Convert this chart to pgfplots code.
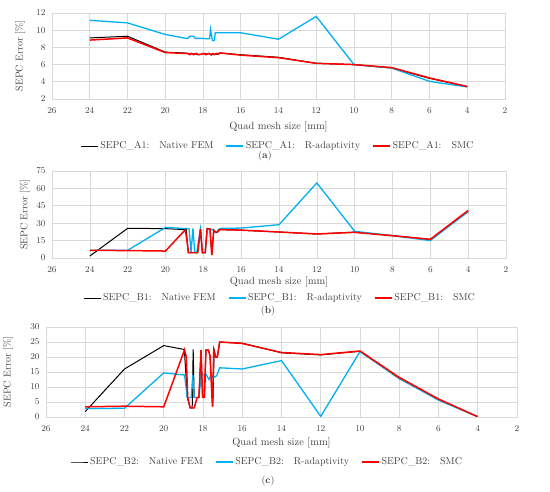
\documentclass[border=0pt]{standalone}
\usepackage{pgfplots}
\pgfplotsset{compat=1.18}
\definecolor{xlblue}{RGB}{0,176,240}
\definecolor{gridc}{RGB}{217,217,217}
\definecolor{txt}{RGB}{64,64,64}
\pgfplotsset{
  panel/.style={
    scale only axis,
    x dir=reverse,
    xmin=2, xmax=26,
    xtick={2,4,...,26},
    grid=major,
    grid style={gridc, line width=0.6pt},
    axis line style={gridc, line width=0.6pt},
    major tick length=0pt,
    tick label style={font=\fontsize{9.5}{10}\selectfont, text=txt},
    xticklabel style={yshift=-5bp},
    yticklabel style={xshift=-3bp},
    xlabel={Quad mesh size [mm]},
    ylabel={SEPC Error [\%]},
    every axis x label/.style={font=\fontsize{10.5}{13}\selectfont, text=txt, anchor=center},
    every axis y label/.style={font=\fontsize{10}{12}\selectfont, text=txt, rotate=90, anchor=center},
    legend columns=3,
    legend cell align=left,
    legend style={draw=none, fill=none, inner sep=0pt, anchor=west,
      font=\fontsize{10}{11}\selectfont, text=txt,
      /tikz/every even column/.append style={column sep=10bp},
      /tikz/every odd column/.append style={column sep=0bp}},
  },
  blk/.style={black, line width=1.0pt},
  blu/.style={xlblue, line width=1.3pt},
  rd/.style={red, line width=1.5pt},
}
\begin{document}
\begin{tikzpicture}
\useasboundingbox (0,0) rectangle (550bp,492bp);
% ---------------- (a)
\begin{axis}[panel,
  at={(52bp,393bp)}, anchor=south west,
  width=453bp, height=86bp,
  ymin=2, ymax=12, ytick={2,4,...,12},
  xlabel style={at={(axis description cs:0.5,-0.326)}},
  ylabel style={at={(axis description cs:-0.0706,0.5)}},
  legend style={at={(axis description cs:0.062,-0.547)}},
]
\addplot[blk] table {
24 9.1
22 9.3
20 7.45
19 7.35
18.8 7.3
18.7 7.2
18.6 7.3
18.5 7.2
18.4 7.3
18.3 7.15
18.1 7.2
17.9 7.3
17.8 7.2
17.7 7.3
17.55 7.1
17.45 7.25
17.3 7.2
17.1 7.35
16 7.15
14 6.85
12 6.15
10 6.0
8 5.6
6 4.4
4 3.45
};
\addlegendentry{SEPC\_A1:\hspace{10bp}Native FEM}
\addplot[blu] table {
24 11.15
22 10.85
20 9.5
18.9 9.05
18.8 9.05
18.7 9.3
18.5 9.3
18.4 9.05
18.0 9.05
17.8 9.0
17.65 9.0
17.6 10.1
17.5 8.8
17.4 8.8
17.35 9.7
16 9.7
14 8.95
12 11.6
10 6.0
8 5.6
6 4.05
4 3.4
};
\addlegendentry{SEPC\_A1:\hspace{10bp}R-adaptivity}
\addplot[rd] table {
24 8.85
22 9.1
20 7.4
19 7.3
18.8 7.3
18.7 7.15
18.6 7.3
18.5 7.15
18.35 7.3
18.25 7.15
18.1 7.2
17.95 7.3
17.85 7.15
17.7 7.3
17.6 7.2
17.5 7.25
17.4 7.15
17.3 7.3
17.2 7.2
17.1 7.35
16 7.1
14 6.8
12 6.15
10 6.0
8 5.65
6 4.45
4 3.45
};
\addlegendentry{SEPC\_A1:\hspace{10bp}SMC}
\end{axis}
% ---------------- (b)
\begin{axis}[panel,
  at={(52bp,234bp)}, anchor=south west,
  width=454bp, height=87bp,
  ymin=0, ymax=75, ytick={0,15,...,75},
  xlabel style={at={(axis description cs:0.5,-0.276)}},
  ylabel style={at={(axis description cs:-0.0595,0.5)}},
  legend style={at={(axis description cs:0.068,-0.46)}},
]
\addplot[blk] table {
24 1.7
22 25.6
20 25.3
18.9 24.4
18.8 4.6
18.3 4.6
18.15 25
18.05 4.6
17.9 4.6
17.8 25
17.65 25
17.55 2.5
17.45 24
17.35 22.4
17.25 22.4
17.15 24.5
16 24
14 22.4
12 20.7
10 22.3
8 19.3
6 16
4 40
};
\addlegendentry{SEPC\_B1:\hspace{10bp}Native FEM}
\addplot[blu] table {
24 6.6
22 6.6
20 26.4
18.9 25.3
18.75 25
18.65 4.5
18.55 25.5
18.45 4.5
18.35 4.5
18.15 25
18.05 4.6
17.9 4.6
17.8 25.5
17.65 25
17.5 24.5
17.4 22
17.3 22
17.2 24.5
17.1 25.5
16 25.8
14 28.7
12 64.7
10 23
8 19.3
6 15
4 40
};
\addlegendentry{SEPC\_B1:\hspace{10bp}R-adaptivity}
\addplot[rd] table {
24 6.6
22 6.4
20 6.0
18.95 24.4
18.78 4.6
18.3 4.6
18.15 25
18.05 4.6
17.9 4.6
17.8 25
17.65 25
17.55 2.5
17.45 24
17.35 22.4
17.25 22.4
17.15 24.5
16 24
14 22.4
12 20.7
10 22.1
8 19.2
6 16.1
4 41
};
\addlegendentry{SEPC\_B1:\hspace{10bp}SMC}
\end{axis}
% ---------------- (c)
\begin{axis}[panel,
  at={(46bp,75bp)}, anchor=south west,
  width=471bp, height=90bp,
  ymin=0, ymax=30, ytick={0,5,...,30},
  xlabel style={at={(axis description cs:0.5,-0.289)}},
  ylabel style={at={(axis description cs:-0.0806,0.5)}},
  legend style={at={(axis description cs:0.051,-0.5)}},
]
\addplot[blk] table {
24 1.8
22 16.0
20 23.8
18.95 22.5
18.8 6.5
18.65 3.0
18.55 3.0
18.5 22.5
18.45 6.5
18.3 6.5
18.2 6.5
18.1 22.4
18.02 6.5
17.92 6.5
17.85 22.3
17.72 22.3
17.64 20.3
17.5 3.5
17.43 22.3
17.35 19.9
17.27 20.0
17.15 25.0
16 24.6
14 21.4
12 20.7
10 21.9
8 12.8
6 5.8
4 0.1
};
\addlegendentry{SEPC\_B2:\hspace{10bp}Native FEM}
\addplot[blu] table {
24 2.8
22 2.9
20 14.7
18.94 14.0
18.8 6.5
18.6 6.5
18.52 14
18.45 6.5
18.2 6.5
18.1 14
17.95 14
17.85 14.3
17.7 12.5
17.6 13.8
17.5 13.5
17.4 13.3
17.3 13.8
17.15 16.4
16 16.0
14 18.8
12 0.2
10 21.8
8 12.9
6 5.6
4 0.1
};
\addlegendentry{SEPC\_B2:\hspace{10bp}R-adaptivity}
\addplot[rd] table {
24 3.4
22 3.6
20 3.4
18.94 22.4
18.85 20
18.78 6.5
18.65 3.0
18.45 3.0
18.3 6.5
18.21 6.5
18.1 22.3
18.02 6.5
17.94 6.5
17.85 22.3
17.72 22.3
17.64 20.3
17.52 3.5
17.45 22.3
17.35 19.9
17.27 20.0
17.15 25.0
16 24.5
14 21.5
12 20.8
10 22.0
8 13.2
6 6.0
4 0.1
};
\addlegendentry{SEPC\_B2:\hspace{10bp}SMC}
\end{axis}
% captions
\node[font=\fontsize{10}{12}\selectfont, text=txt] at (265bp,336bp) {(\textbf{a})};
\node[font=\fontsize{10}{12}\selectfont, text=txt] at (268bp,181bp) {(\textbf{b})};
\node[font=\fontsize{10}{12}\selectfont, text=txt] at (268bp,11bp) {(\textbf{c})};
\end{tikzpicture}
\end{document}
